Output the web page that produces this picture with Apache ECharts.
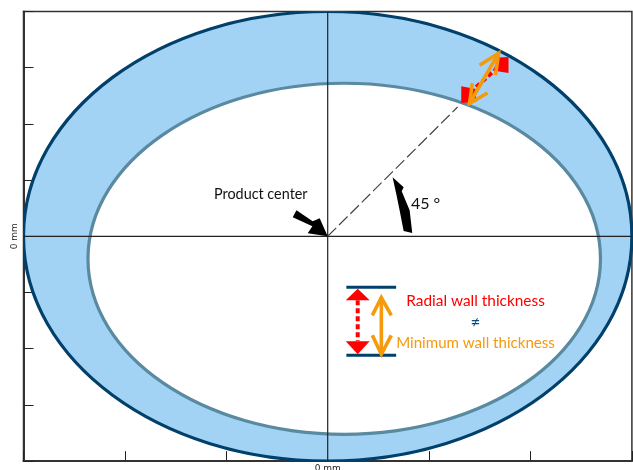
<!DOCTYPE html>
<html><head><meta charset="utf-8">
<style>html,body{margin:0;padding:0;background:#fff;overflow:hidden}#c{width:633px;height:470px}</style>
<script src="https://cdn.jsdelivr.net/npm/echarts@6/dist/echarts.min.js"></script>
</head><body><div id="c"></div>
<script>
// Data units (mm, offset from the product center)
const xRange = [-3, 3];
const yRange = [-4, 4];
const tickStep = 1;
const outerEllipse = [0, 0, 3, 4];            // cx, cy, rx, ry
const innerEllipse = [0.163, -0.4, 2.527, 3.123];
const horizontalAxisLine = [[-3, 0], [3, 0]];
const verticalAxisLine = [[0, -4], [0, 4]];
const radialLine = [[0, 0], [1.281, 2.3]];
const wallRedShaft = [[1.465, 2.657], [1.645, 2.954]];
const wallRedHeadLow = [[1.317, 2.669], [1.317, 2.372], [1.465, 2.39], [1.46, 2.62]];
const wallRedHeadHigh = [[1.685, 3.18], [1.783, 3.19], [1.783, 2.906], [1.63, 2.95]];
const wallOrangeShaft = [[1.399, 2.367], [1.685, 3.256]];
const wallOrangeArmsHigh = [[1.498, 3.043], [1.685, 3.256], [1.655, 2.865]];
const wallOrangeArmsLow = [[1.426, 2.722], [1.399, 2.367], [1.576, 2.55]];
const angleArrow = [[0.64, 1.05], [0.749, 0.872], [0.73, 0.80], [0.808, 0.463], [0.834, 0.059], [0.749, 0.094], [0.709, 0.463], [0.68, 0.72]];
const centerArrow = [[-0.308, 0.463], [-0.148, 0.267], [-0.079, 0.32], [0, 0], [-0.197, 0.053], [-0.151, 0.178], [-0.345, 0.338]];
const keyBarTop = [[0.184, -0.907], [0.675, -0.907]];
const keyBarBottom = [[0.184, -2.117], [0.675, -2.117]];
const keyRedShaft = [[0.296, -1.139], [0.296, -1.868]];
const keyRedHeadTop = [[0.296, -0.934], [0.178, -1.139], [0.414, -1.139]];
const keyRedHeadBottom = [[0.296, -2.1], [0.178, -1.868], [0.414, -1.868]];
const keyOrangeShaft = [[0.529, -1.09], [0.529, -2.1]];
const keyOrangeArmsTop = [[0.44, -1.406], [0.529, -1.09], [0.627, -1.406]];
const keyOrangeArmsBottom = [[0.44, -1.762], [0.529, -2.1], [0.627, -1.762]];
const labels = [
  {text: 'Product center', at: [-0.66, 0.747], color: '#111', size: 14.4},
  {text: '45 °', at: [0.965, 0.569], color: '#111', size: 16},
  {text: 'Radial wall thickness', at: [1.458, -1.151], color: '#f00', size: 15.4},
  {text: '≠', at: [1.458, -1.53], color: '#0b4a78', size: 17},
  {text: 'Minimum wall thickness', at: [1.458, -1.9], color: '#f59a0c', size: 15.1}
];
const FONT = 'Lato, "Open Sans", sans-serif';
const TICK_FONT = '"DejaVu Sans", sans-serif';

const NAVY = '#00406b', STEEL = '#5a8aa0', BLUE = '#a2d2f4', RED = '#ff0000', ORANGE = '#f59a0c';

function ellipseEl(api, fill, stroke) {
  const c = api.coord([api.value(0), api.value(1)]);
  const s = api.size([api.value(2), api.value(3)]);
  return {type: 'ellipse', shape: {cx: c[0], cy: c[1], rx: s[0], ry: s[1]},
          style: {fill: fill, stroke: stroke, lineWidth: 3.2}};
}
const pts = (api, list) => list.map(p => api.coord(p));
const poly = (api, list, fill) => ({type: 'polygon', shape: {points: pts(api, list)}, style: {fill: fill}});
const stroke = (api, list, color, w, dash) => ({type: 'polyline', shape: {points: pts(api, list)},
  style: {fill: 'none', stroke: color, lineWidth: w, lineDash: dash || null, lineJoin: 'miter', lineCap: 'butt'}});

function layer(z, build) {
  return {type: 'custom', coordinateSystem: 'cartesian2d', z: z, clip: true, silent: true,
          data: [[0, 0]], encode: {x: 0, y: 1},
          renderItem: (params, api) => ({type: 'group', children: build(api)})};
}
const ellipseSeries = (values, fill, line, z) => ({
  type: 'custom', coordinateSystem: 'cartesian2d', z: z, clip: true, silent: true,
  data: [values], encode: {x: 0, y: 1},
  renderItem: (params, api) => ellipseEl(api, fill, line)
});

const chart = echarts.init(document.getElementById('c'), null, {renderer: 'canvas'});
chart.setOption({
  animation: false,
  backgroundColor: '#fff',
  grid: {left: 23.5, top: 11.5, width: 608.4, height: 449.6, outerBoundsMode: 'none', containLabel: false,
    show: true, borderColor: '#333', borderWidth: 1.5, backgroundColor: '#fff'},
  xAxis: {type: 'value', min: xRange[0], max: xRange[1], interval: tickStep,
    axisLine: {show: true, onZero: false, lineStyle: {color: '#333', width: 2}},
    axisTick: {inside: true, length: 10, lineStyle: {color: '#222', width: 1}},
    splitLine: {show: false},
    axisLabel: {show: true, margin: 3, fontSize: 9, color: '#222', fontFamily: TICK_FONT, interval: 0, hideOverlap: false,
      formatter: v => v === 0 ? '0 mm' : ''}},
  yAxis: {type: 'value', min: yRange[0], max: yRange[1], interval: tickStep,
    axisLine: {show: true, onZero: false, lineStyle: {color: '#333', width: 2}},
    axisTick: {inside: true, length: 10, lineStyle: {color: '#222', width: 1}},
    splitLine: {show: false},
    axisLabel: {show: true, margin: 4, rotate: 90, fontSize: 9, color: '#222', fontFamily: TICK_FONT, hideOverlap: false,
      formatter: v => v === 0 ? '0 mm' : ''}},
  series: [
    ellipseSeries(outerEllipse, BLUE, NAVY, 2),
    ellipseSeries(innerEllipse, '#fff', STEEL, 3),
    layer(4, api => [
      stroke(api, horizontalAxisLine, '#222', 1.2),
      stroke(api, verticalAxisLine, '#222', 1.2),
      stroke(api, radialLine, '#444', 1.2, [12, 4])
    ]),
    layer(5, api => [
      poly(api, angleArrow, '#000'),
      poly(api, centerArrow, '#000'),
      poly(api, wallRedHeadLow, RED),
      poly(api, wallRedHeadHigh, RED),
      stroke(api, wallRedShaft, RED, 4, [5, 3]),
      stroke(api, wallOrangeShaft, ORANGE, 3.6),
      stroke(api, wallOrangeArmsHigh, ORANGE, 3.6),
      stroke(api, wallOrangeArmsLow, ORANGE, 3.6),
      stroke(api, keyBarTop, NAVY, 3),
      stroke(api, keyBarBottom, NAVY, 3),
      poly(api, keyRedHeadTop, RED),
      poly(api, keyRedHeadBottom, RED),
      stroke(api, keyRedShaft, RED, 4, [5, 3]),
      stroke(api, keyOrangeShaft, ORANGE, 3.6),
      stroke(api, keyOrangeArmsTop, ORANGE, 3.6),
      stroke(api, keyOrangeArmsBottom, ORANGE, 3.6)
    ]),
    layer(6, api => labels.map(l => {
      const p = api.coord(l.at);
      return {type: 'text', x: p[0], y: p[1], style: {text: l.text, fill: l.color,
        font: l.size + 'px ' + FONT, align: 'center', verticalAlign: 'middle'}};
    }))
  ]
});
</script></body></html>
